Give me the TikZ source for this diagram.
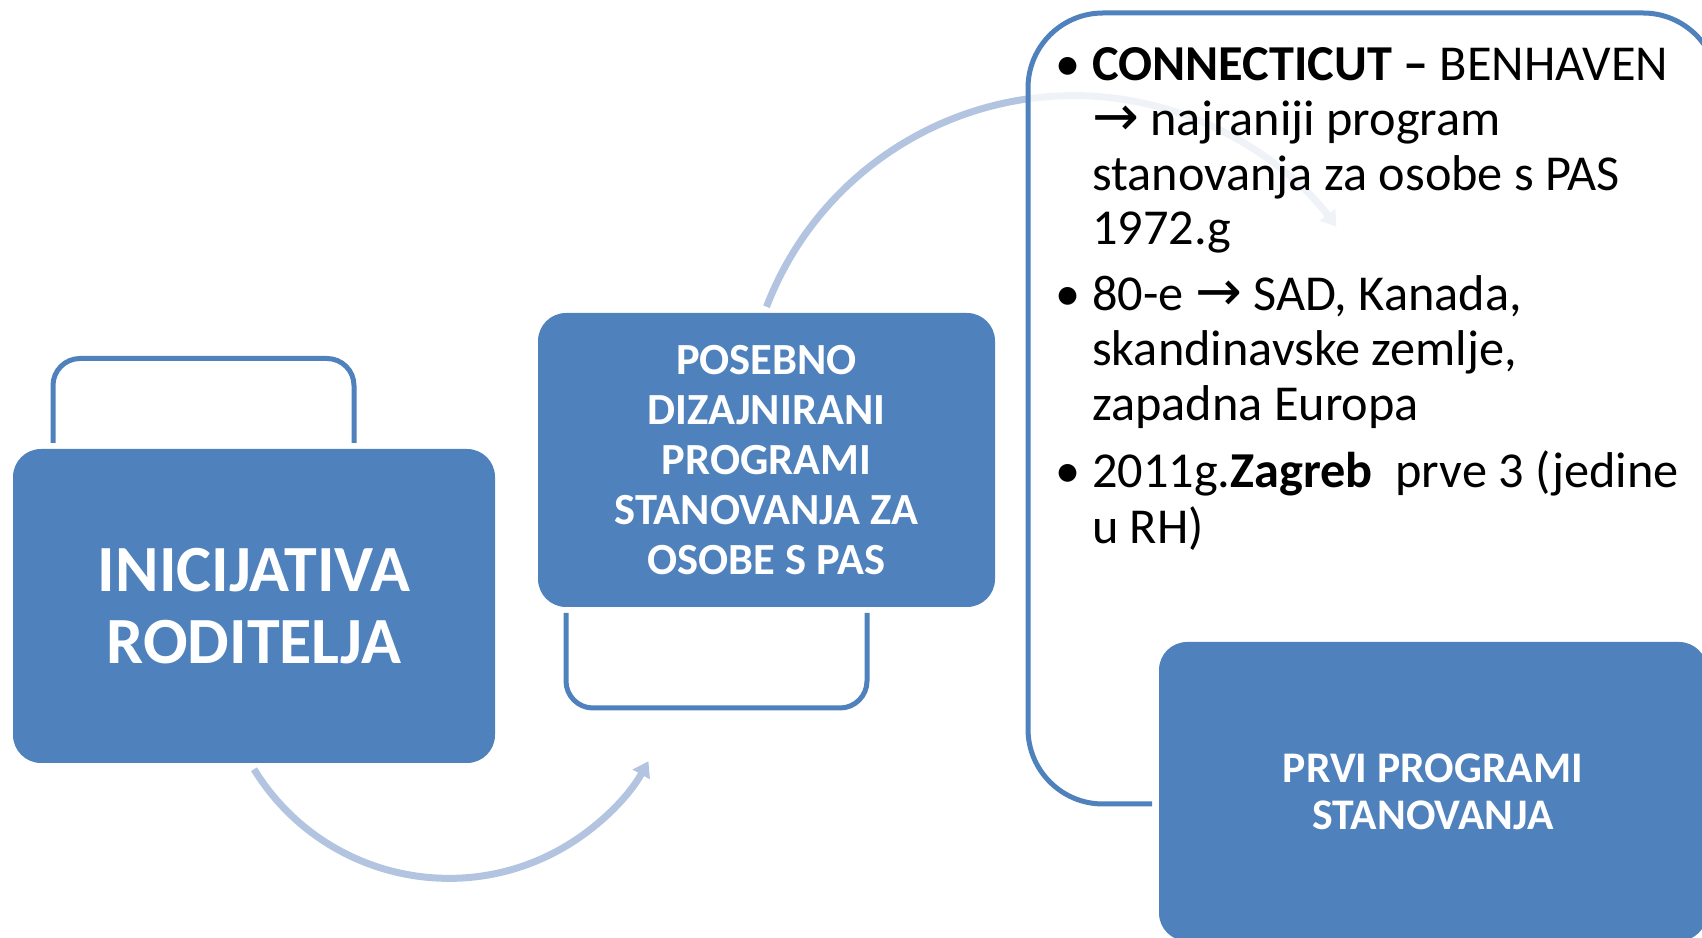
\documentclass[tikz,border=0pt]{standalone}
\usepackage{fontspec}
\setmainfont{Carlito}
\newfontfamily\symfont{DejaVu Sans}
\usetikzlibrary{arrows.meta}
\definecolor{accent}{HTML}{4F81BD}
\definecolor{arrowc}{RGB}{178,196,224}
\newcommand{\rarr}{{\symfont\fontsize{56}{55}\selectfont →}}
\tikzset{
  fillbox/.style={fill=accent, draw=none, rounded corners=28pt, text=white, align=center, inner sep=0pt},
  outl/.style={draw=accent, line width=5pt, rounded corners=27pt},
  flow/.style={draw=arrowc, line width=7pt, -{Triangle[length=15pt,width=19pt]}},
  itemtxt/.style={anchor=base west, inner sep=0pt, font=\fontsize{50.3}{55}\selectfont},
}
\begin{document}
\begin{tikzpicture}[x=1pt,y=1pt]
\useasboundingbox (0,0) rectangle (1702,937);
\clip (0,0) rectangle (1702,937);
% outline boxes behind the filled boxes
\draw[outl] (53,494) -- (53,578.5) -- (354,578.5) -- (354,494);
\draw[outl] (566,324) -- (566,229) -- (867,229) -- (867,324);
% filled boxes
\node[fillbox, minimum width=482pt, minimum height=314pt, font=\bfseries\fontsize{66}{72}\selectfont] (b1) at (254,331) {INICIJATIVA\\RODITELJA};
\node[fillbox, minimum width=457pt, minimum height=294pt, font=\bfseries\fontsize{44.5}{50}\selectfont] (b2) at (766.5,477) {POSEBNO\\DIZAJNIRANI\\PROGRAMI\\STANOVANJA ZA\\OSOBE S PAS};
% connectors
\draw[flow] ([yshift=-6pt]b1.south) arc[start angle=211.5, end angle=330.8, radius=228.6];
\draw[flow] ([yshift=6pt]b2.north) arc[start angle=159, end angle=37, radius=329];
% big text box
\path[fill=white, fill opacity=0.8, rounded corners=75pt] (1028,133) rectangle (1718,924);
\draw[outl, rounded corners=75pt] (1152,133) -- (1028,133) -- (1028,924) -- (1718,924) -- (1718,133);
\node[itemtxt] (d1) at (1055,856.6) {•};
\node[itemtxt] (t1) at (1092,856.6) {\textbf{CONNECTICUT –} BENHAVEN};
\node[itemtxt] (t2) at (1092,801.1) {\rarr{} najraniji program};
\node[itemtxt] (t3) at (1092,746.8) {stanovanja za osobe s PAS};
\node[itemtxt] (t4) at (1092,692.1) {1972.g};
\node[itemtxt] (d2) at (1055,626.2) {•};
\node[itemtxt] (t5) at (1092,626.2) {80-e \rarr{} SAD, Kanada,};
\node[itemtxt] (t6) at (1092,571.5) {skandinavske zemlje,};
\node[itemtxt] (t7) at (1092,516) {zapadna Europa};
\node[itemtxt] (d3) at (1055,449) {•};
\node[itemtxt] (t8) at (1092,449) {2011g.\textbf{Zagreb}\ \ prve 3 (jedine};
\node[itemtxt] (t9) at (1092,393.6) {u RH)};
% third filled box
\node[fillbox, minimum width=548pt, minimum height=299pt, font=\bfseries\fontsize{43.7}{47}\selectfont] (b3) at (1433,145.5) {PRVI PROGRAMI\\STANOVANJA};
\end{tikzpicture}
\end{document}
